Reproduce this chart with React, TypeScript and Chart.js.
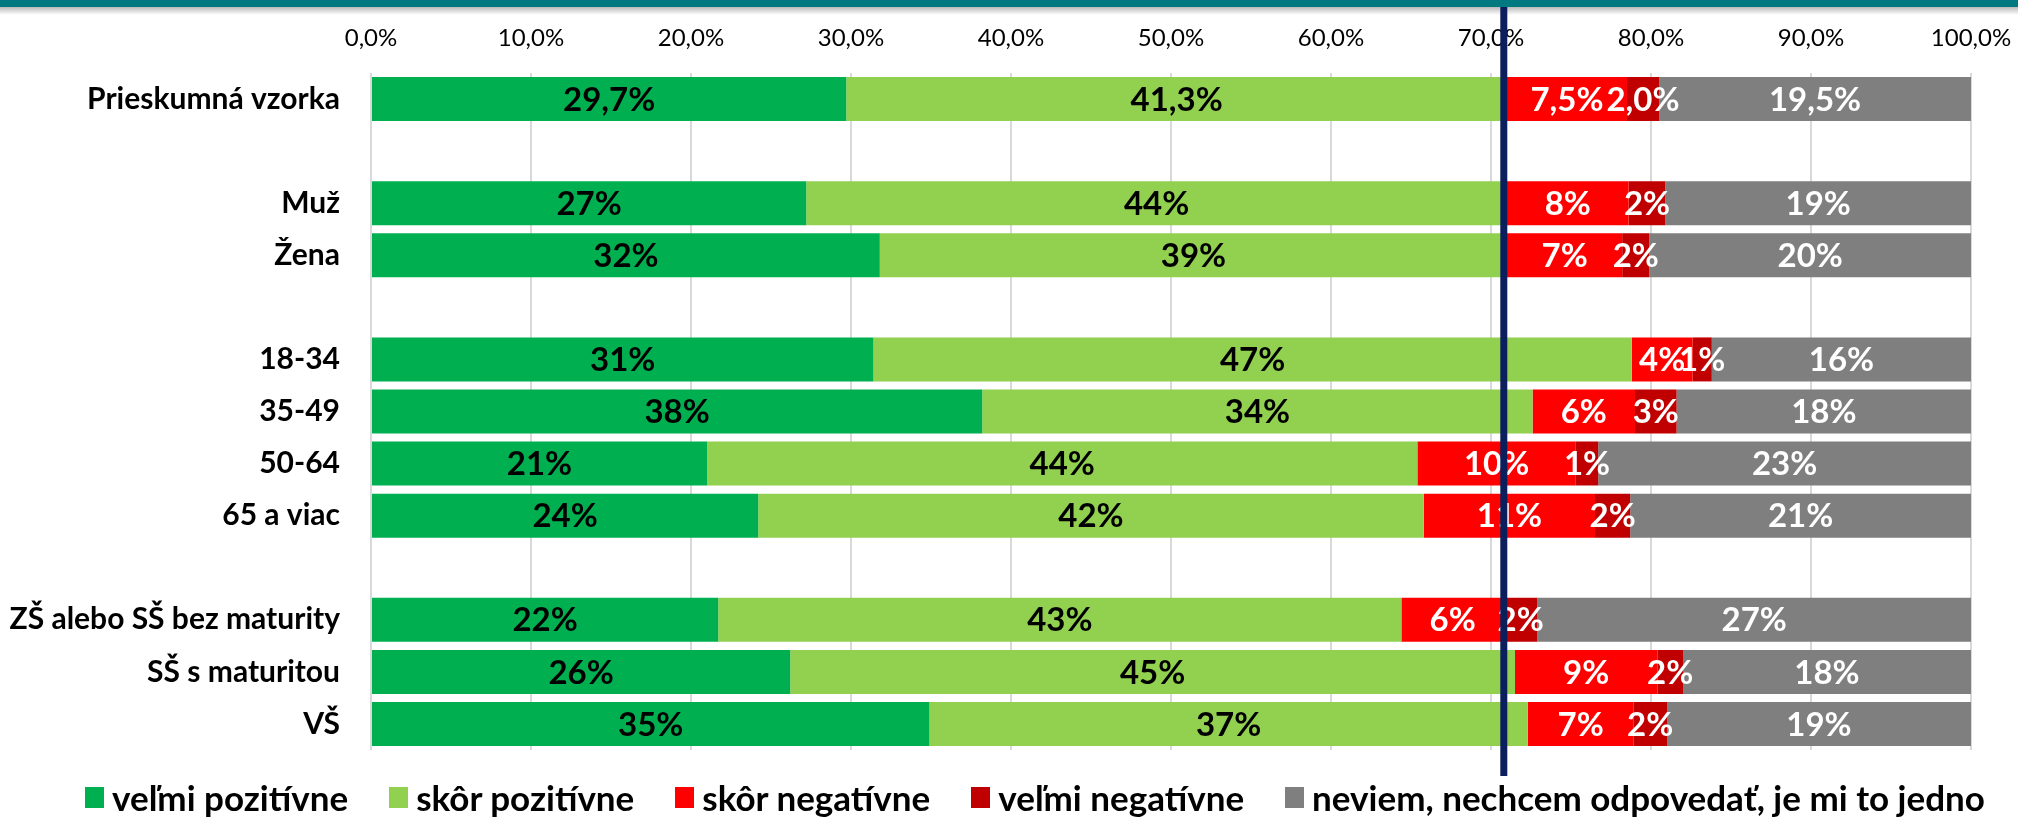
import React, { useEffect, useRef } from 'react';
import { Chart, registerables } from 'chart.js';

Chart.register(...registerables);

// ---------- data ----------
const categories = [
  'Prieskumná vzorka',
  '',
  'Muž',
  'Žena',
  '',
  '18-34',
  '35-49',
  '50-64',
  '65 a viac',
  '',
  'ZŠ alebo SŠ bez maturity',
  'SŠ s maturitou',
  'VŠ',
];

const velmiPozitivne = [29.7, null, 27.2, 31.8, null, 31.4, 38.2, 21.0, 24.2, null, 21.7, 26.2, 34.9];
const skorPozitivne = [41.3, null, 43.8, 39.2, null, 47.4, 34.4, 44.4, 41.6, null, 42.7, 45.3, 37.4];
const skorNegativne = [7.5, null, 7.6, 7.2, null, 3.8, 6.4, 9.9, 10.7, null, 6.4, 8.9, 6.6];
const velmiNegativne = [2.0, null, 2.3, 1.7, null, 1.2, 2.6, 1.4, 2.2, null, 2.1, 1.6, 2.1];
const neviem = [19.5, null, 19.1, 20.1, null, 16.2, 18.4, 23.3, 21.3, null, 27.1, 18.0, 19.0];

// decimals shown in the data labels of each row
const labelDecimals = [1, 0, 0, 0, 0, 0, 0, 0, 0, 0, 0, 0, 0];

const seriesNames = [
  'veľmi pozitívne',
  'skôr pozitívne',
  'skôr negatívne',
  'veľmi negatívne',
  'neviem, nechcem odpovedať, je mi to jedno',
];
const seriesData = [velmiPozitivne, skorPozitivne, skorNegativne, velmiNegativne, neviem];
const seriesColors = ['#00B050', '#92D050', '#FF0000', '#C00000', '#7F7F7F'];
const labelColors = ['#000000', '#000000', '#FFFFFF', '#FFFFFF', '#FFFFFF'];

const xMin = 0;
const xMax = 100;
const xStep = 10;

// vertical reference line (share of positive answers in the whole sample)
const referenceLine = 70.8;

const FONT = 'Lato, "Noto Sans", "DejaVu Sans", sans-serif';

const fmtPct = (v: number, d: number) => `${v.toFixed(d).replace('.', ',')}%`;

// ---------- plugins ----------
const bandPlugin = {
  id: 'topBand',
  beforeDraw(chart: any) {
    const { ctx, width, height } = chart;
    ctx.save();
    ctx.fillStyle = '#FFFFFF';
    ctx.fillRect(0, 0, width, height);
    const g = ctx.createLinearGradient(0, 6, 0, 15);
    g.addColorStop(0, 'rgba(0,0,0,0.30)');
    g.addColorStop(1, 'rgba(0,0,0,0)');
    ctx.fillStyle = g;
    ctx.fillRect(0, 6, width, 9);
    ctx.fillStyle = '#007A80';
    ctx.fillRect(0, 0, width, 7);
    ctx.restore();
  },
};

const dataLabelPlugin = {
  id: 'segmentLabels',
  afterDatasetsDraw(chart: any) {
    const { ctx } = chart;
    ctx.save();
    ctx.font = `bold 33px ${FONT}`;
    ctx.textAlign = 'center';
    ctx.textBaseline = 'middle';
    chart.data.datasets.forEach((ds: any, di: number) => {
      const meta = chart.getDatasetMeta(di);
      meta.data.forEach((el: any, i: number) => {
        const v = ds.data[i];
        if (v === null || v === undefined) return;
        const { x, base, y } = el.getProps(['x', 'base', 'y'], true);
        ctx.fillStyle = labelColors[di];
        ctx.fillText(fmtPct(v, labelDecimals[i]), (x + base) / 2, y + 1);
      });
    });
    ctx.restore();
  },
};

const refLinePlugin = {
  id: 'refLine',
  afterDraw(chart: any) {
    const { ctx, chartArea } = chart;
    const px = chart.scales.x.getPixelForValue(referenceLine);
    ctx.save();
    ctx.fillStyle = '#0B1F5C';
    ctx.fillRect(px - 3.5, 7, 7, chartArea.bottom + 26 - 7);
    ctx.restore();
  },
};

export default function App() {
  const canvasRef = useRef<HTMLCanvasElement | null>(null);

  useEffect(() => {
    if (!canvasRef.current) return;
    const chart = new Chart(canvasRef.current, {
      type: 'bar',
      data: {
        labels: categories,
        datasets: seriesNames.map((name, i) => ({
          label: name,
          data: seriesData[i],
          backgroundColor: seriesColors[i],
          borderWidth: 0,
          barPercentage: 0.845,
          categoryPercentage: 1,
        })),
      },
      options: {
        indexAxis: 'y',
        responsive: false,
        animation: false,
        devicePixelRatio: 1,
        layout: { padding: { left: 0, right: 47, top: 0, bottom: 68 } },
        plugins: {
          legend: { display: false },
          tooltip: { enabled: false },
        },
        scales: {
          x: {
            position: 'top',
            stacked: true,
            min: xMin,
            max: xMax,
            ticks: {
              stepSize: xStep,
              padding: 20,
              color: '#000000',
              font: { family: FONT, size: 24 },
              callback: (v: any) => fmtPct(Number(v), 1),
            },
            grid: { color: '#D9D9D9', lineWidth: 2, drawTicks: false },
            border: { display: false },
            afterFit: (scale: any) => {
              scale.height = 73;
              scale.paddingLeft = 0;
              scale.paddingRight = 0;
            },
          },
          y: {
            stacked: true,
            ticks: {
              padding: 31,
              color: '#000000',
              font: { family: FONT, size: 30, weight: 'bold' },
            },
            grid: { display: false, drawTicks: false },
            border: { display: false },
            afterFit: (scale: any) => {
              scale.width = 371;
              scale.paddingTop = 0;
              scale.paddingBottom = 0;
            },
          },
        },
      } as any,
      plugins: [bandPlugin, dataLabelPlugin, refLinePlugin],
    });
    return () => chart.destroy();
  }, []);

  return (
    <div style={{ position: 'absolute', left: 0, top: 0, width: 2018, height: 818, background: '#FFFFFF', overflow: 'hidden' }}>
      <canvas ref={canvasRef} width={2018} height={818} style={{ display: 'block', width: 2018, height: 818 }} />
      <div
        style={{
          position: 'absolute',
          left: 0,
          top: 776,
          width: 2018,
          height: 42,
          paddingLeft: 52,
          boxSizing: 'border-box',
          display: 'flex',
          justifyContent: 'center',
          alignItems: 'center',
          gap: 41,
          fontFamily: FONT,
          fontWeight: 700,
          fontSize: 35,
          color: '#000000',
          lineHeight: 1,
        }}
      >
        {seriesNames.map((name, i) => (
          <div key={name} style={{ display: 'flex', alignItems: 'center', gap: 8 }}>
            <span style={{ display: 'inline-block', width: 19, height: 21, background: seriesColors[i] }} />
            <span style={{ whiteSpace: 'nowrap' }}>{name}</span>
          </div>
        ))}
      </div>
    </div>
  );
}
